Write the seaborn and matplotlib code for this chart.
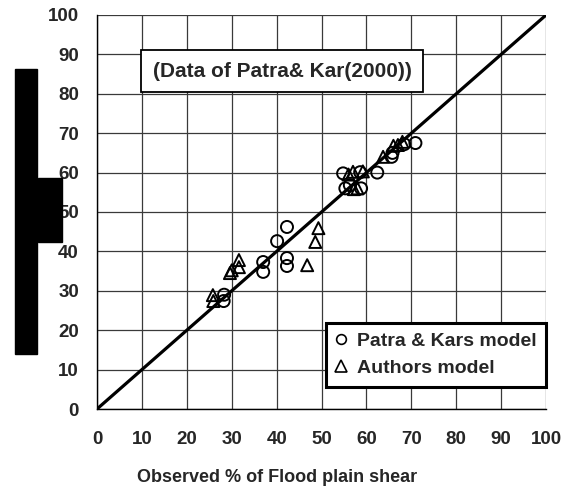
import matplotlib
matplotlib.use("Agg")
import matplotlib.pyplot as plt
from matplotlib.patches import Rectangle
from matplotlib.lines import Line2D
import seaborn as sns
import pandas as pd

# Patra & Kar model (circles): observed vs computed % of flood plain shear
pk_obs = [28.2, 28.3, 37.0, 37.0, 40.1, 42.3, 42.3, 42.3, 54.8, 55.3, 56.3, 58.8,
          58.6, 62.4, 65.6, 65.8, 68.4, 70.9]
pk_calc = [27.4, 29.0, 34.8, 37.3, 42.6, 46.2, 38.3, 36.3, 59.8, 56.0, 56.8, 56.0,
           60.1, 60.0, 64.0, 65.0, 67.2, 67.5]

# Authors model (triangles)
au_obs = [25.8, 25.9, 29.6, 30.0, 31.6, 31.6, 46.8, 48.6, 49.3, 56.0, 57.0, 57.2,
          58.0, 59.2, 63.7, 66.0, 67.0, 68.0]
au_calc = [28.9, 27.4, 34.5, 35.2, 37.8, 36.0, 36.5, 42.4, 45.9, 59.5, 60.2, 55.8,
           56.0, 60.3, 64.0, 66.8, 67.0, 67.8]

line_x = [0, 100]
ticks = list(range(0, 101, 10))

df = pd.concat([
    pd.DataFrame({"obs": pk_obs, "calc": pk_calc, "model": "Patra & Kars model"}),
    pd.DataFrame({"obs": au_obs, "calc": au_calc, "model": "Authors model"}),
])

sns.set_style("white")
plt.rcParams["font.family"] = ["Liberation Sans", "DejaVu Sans"]
plt.rcParams["font.weight"] = "bold"

fig = plt.figure(figsize=(5.63, 4.91), dpi=100)
ax = fig.add_axes([0.1723, 0.167, 0.7977, 0.8025])

ax.grid(True, color="#3a3a3a", linewidth=0.9)
ax.set_axisbelow(True)

sns.lineplot(x=line_x, y=line_x, ax=ax, color="black", linewidth=2.3, zorder=2)
sns.scatterplot(data=df, x="obs", y="calc", style="model",
                markers={"Patra & Kars model": "o", "Authors model": "^"},
                ax=ax, s=75, facecolor="none", edgecolor="black",
                linewidth=1.4, zorder=3, legend=False)

ax.set_xlim(0, 100)
ax.set_ylim(0, 100)
ax.set_xticks(ticks)
ax.set_yticks(ticks)
ax.tick_params(direction="out", length=5, width=1, color="black",
               labelsize=13.5)
ax.tick_params(axis="x", pad=11)
ax.tick_params(axis="y", pad=8)
for lab in ax.get_xticklabels() + ax.get_yticklabels():
    lab.set_fontweight("bold")
for s in ["top", "right"]:
    ax.spines[s].set_visible(False)
for s in ["left", "bottom"]:
    ax.spines[s].set_color("black")
    ax.spines[s].set_linewidth(1.0)

ax.set_xlabel("Observed % of Flood plain shear", fontsize=13, fontweight="bold")
ax.xaxis.set_label_coords(0.40, -0.152)
ax.set_ylabel("")

ax.text(0.124, 0.857, "(Data of Patra& Kar(2000))", transform=ax.transAxes,
        fontsize=15, fontweight="bold", va="center", ha="left",
        bbox=dict(boxstyle="square,pad=0.55", facecolor="white",
                  edgecolor="black", linewidth=1.3))

handles = [
    Line2D([], [], marker="o", linestyle="none", markerfacecolor="none",
           markeredgecolor="black", markersize=7, markeredgewidth=1.2),
    Line2D([], [], marker="^", linestyle="none", markerfacecolor="none",
           markeredgecolor="black", markersize=8, markeredgewidth=1.2),
]
leg = ax.legend(handles, ["Patra & Kars model", "Authors model"],
                loc="lower right", bbox_to_anchor=(1.0, 0.056),
                borderaxespad=0, frameon=True, fancybox=False,
                handlelength=0.6, handletextpad=0.5, borderpad=0.5,
                labelspacing=0.5, prop={"weight": "bold", "size": 14})
leg.get_frame().set_edgecolor("black")
leg.get_frame().set_linewidth(2.2)
leg.get_frame().set_alpha(1)

# black blocks at the left (masked y label)
fig.add_artist(Rectangle((15 / 563, 1 - 354 / 491), 22 / 563, 285 / 491,
                         transform=fig.transFigure, color="black"))
fig.add_artist(Rectangle((38 / 563, 1 - 242 / 491), 24 / 563, 64 / 491,
                         transform=fig.transFigure, color="black"))

fig.savefig("out.png", dpi=100)
